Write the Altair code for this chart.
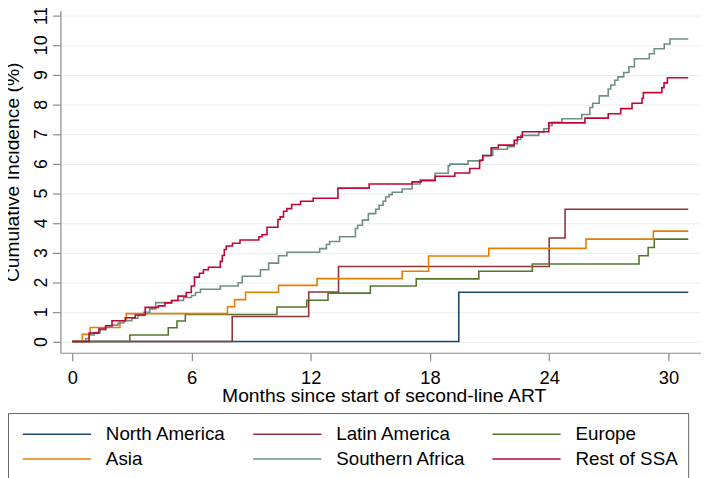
import altair as alt
import pandas as pd

FONT = "Liberation Sans"

series_names = ["North America", "Latin America", "Europe", "Asia",
                "Southern Africa", "Rest of SSA"]
series_colors = ["#1a476f", "#90353b", "#55752f", "#e37e00", "#6e8e84", "#c10534"]

north_america_t = [0, 19.45, 31]
north_america_v = [0, 1.66, 1.66]

latin_america_t = [0, 8.05, 11.9, 13.4, 24.0, 24.8, 31]
latin_america_v = [0, 0.84, 1.67, 2.53, 3.49, 4.46, 4.46]

europe_t = [0, 2.9, 4.83, 5.27, 5.69, 10.3, 11.8, 12.87, 15.0, 17.31, 20.46,
            23.15, 28.52, 28.98, 29.29, 31]
europe_v = [0, 0.22, 0.46, 0.69, 0.91, 1.16, 1.39, 1.63, 1.87, 2.11, 2.37,
            2.61, 2.89, 3.17, 3.45, 3.45]

asia_t = [0, 0.51, 0.9, 2.4, 2.72, 7.81, 8.17, 8.72, 10.38, 12.32, 16.6,
          17.93, 20.96, 25.85, 29.24, 31]
asia_v = [0, 0.24, 0.47, 0.7, 0.94, 1.17, 1.41, 1.66, 1.89, 2.12, 2.37,
          2.88, 3.14, 3.45, 3.72, 3.72]

southern_africa_t = [0, 0.68, 0.85, 1.1, 1.4, 1.7, 2.0, 2.3, 2.6, 3.0,
                     3.3, 3.6, 3.9, 4.2, 5.0, 5.6, 6.0, 6.2, 6.45, 7.45,
                     8.35, 8.55, 9.47, 9.88, 10.38, 10.8, 12.45, 12.79, 12.95, 13.45,
                     14.25, 14.36, 14.6, 14.9, 15.27, 15.44, 15.64, 15.77, 15.94, 16.1,
                     16.6, 17.1, 17.51, 18.26, 18.92, 19.0, 19.92, 20.58, 20.66, 21.16,
                     21.9, 22.24, 22.4, 22.57, 23.48, 23.73, 23.98, 24.15, 24.64, 25.64,
                     26.05, 26.19, 26.52, 26.97, 27.1, 27.3, 27.46, 27.75, 28.01, 28.29,
                     29.04, 29.29, 29.79, 30.08, 31]
southern_africa_v = [0, 0.1, 0.22, 0.3, 0.4, 0.48, 0.55, 0.62, 0.7, 0.78,
                     0.88, 0.98, 1.1, 1.31, 1.38, 1.48, 1.55, 1.65, 1.76, 1.87,
                     1.98, 2.2, 2.42, 2.64, 2.89, 3.01, 3.13, 3.27, 3.37, 3.53,
                     3.81, 3.92, 4.09, 4.31, 4.46, 4.59, 4.73, 4.87, 4.95, 5.03,
                     5.14, 5.31, 5.45, 5.67, 5.92, 5.98, 6.09, 6.11, 6.28, 6.48,
                     6.57, 6.67, 6.81, 6.95, 7.06, 7.17, 7.28, 7.39, 7.51, 7.65,
                     7.89, 8.03, 8.28, 8.51, 8.65, 8.81, 8.92, 9.07, 9.26, 9.53,
                     9.7, 9.87, 10.03, 10.2, 10.2]

rest_ssa_t = [0, 0.85, 1.34, 1.68, 2.0, 2.67, 3.17, 3.67, 4.33, 4.66,
              5.0, 5.32, 5.74, 5.99, 6.15, 6.4, 6.6, 6.85, 7.45, 7.55,
              7.65, 7.75, 8.06, 8.44, 9.39, 9.55, 9.8, 10.35, 10.46, 10.63,
              10.8, 11.04, 11.49, 12.12, 13.37, 14.94, 17.1, 17.56, 18.26, 19.25,
              20.0, 20.5, 20.66, 21.08, 21.44, 22.24, 22.4, 22.65, 23.98, 25.8,
              26.97, 27.6, 28.17, 28.67, 28.74, 29.67, 29.78, 29.95, 31]
rest_ssa_v = [0, 0.28, 0.42, 0.53, 0.7, 0.8, 0.89, 1.15, 1.2, 1.3,
              1.38, 1.53, 1.65, 1.87, 2.17, 2.3, 2.42, 2.5, 2.7, 2.9,
              3.1, 3.22, 3.31, 3.42, 3.53, 3.6, 3.85, 4.11, 4.2, 4.39,
              4.48, 4.62, 4.73, 4.83, 5.17, 5.31, 5.38, 5.42, 5.57, 5.68,
              5.83, 6.11, 6.26, 6.53, 6.62, 6.78, 6.89, 7.07, 7.37, 7.53,
              7.68, 7.85, 8.03, 8.2, 8.39, 8.56, 8.72, 8.89, 8.89]

x_ticks = [0, 6, 12, 18, 24, 30]
y_ticks = list(range(0, 12))

all_series = [
    (series_names[0], north_america_t, north_america_v),
    (series_names[1], latin_america_t, latin_america_v),
    (series_names[2], europe_t, europe_v),
    (series_names[3], asia_t, asia_v),
    (series_names[4], southern_africa_t, southern_africa_v),
    (series_names[5], rest_ssa_t, rest_ssa_v),
]

rows = []
for order, (name, ts, vs) in enumerate(all_series):
    for t, v in zip(ts, vs):
        rows.append({"region": name, "month": t, "ci": v, "ord": order})
df = pd.DataFrame(rows)

chart = alt.Chart(df).mark_line(interpolate="step-after", strokeWidth=1.6).encode(
    x=alt.X("month:Q",
            scale=alt.Scale(domain=[-0.597, 31.64], nice=False, zero=False),
            axis=alt.Axis(values=x_ticks, title="Months since start of second-line ART",
                          grid=False, tickSize=8, labelPadding=8,
                          labelFontSize=18.5, titleFontSize=19.5,
                          titleX=327, titleY=34, titleBaseline="top",
                          titleAlign="center")),
    y=alt.Y("ci:Q",
            scale=alt.Scale(domain=[-0.38, 11.153], nice=False, zero=False),
            axis=alt.Axis(values=y_ticks, title="Cumulative Incidence (%)",
                          grid=True, tickSize=8, labelPadding=2.5,
                          labelAngle=270, labelAlign="center", labelBaseline="bottom",
                          labelFontSize=18,
                          titleFontSize=19.5, titleAngle=270, titleX=-48, titleY=163,
                          titleBaseline="middle", titleAlign="center")),
    color=alt.Color("region:N",
                    scale=alt.Scale(domain=series_names, range=series_colors),
                    legend=alt.Legend(title=None, orient="none", legendX=-53, legendY=407,
                                      columns=3, direction="horizontal",
                                      symbolType="stroke", symbolSize=4761,
                                      symbolStrokeWidth=1.6, symbolOffset=4,
                                      clipHeight=23,
                                      labelFontSize=19,
                                      labelOffset=14, columnPadding=22, rowPadding=2,
                                      padding=10, strokeColor="#666666",
                                      fillColor="white",
                                      labelExpr="datum.label == 'Asia' ? '\u00a0Asia' : datum.label")),
    order=alt.Order("ord:Q"),
).properties(
    width=648, height=346,
    autosize=alt.AutoSizeParams(type="none"),
    padding={"left": 53, "top": 0, "right": 0, "bottom": 124},
).configure_axis(
    labelFont=FONT, titleFont=FONT, labelColor="black", titleColor="black",
    titleFontWeight="normal", domainColor="#8a8a8a", tickColor="#8a8a8a",
    gridColor="#e6eef1", domainWidth=1.2, tickWidth=1.2,
).configure_legend(
    labelFont=FONT, labelColor="black",
).configure_view(
    stroke=None,
)

chart.save("out.html", embed_options={"renderer": "svg", "actions": False})
